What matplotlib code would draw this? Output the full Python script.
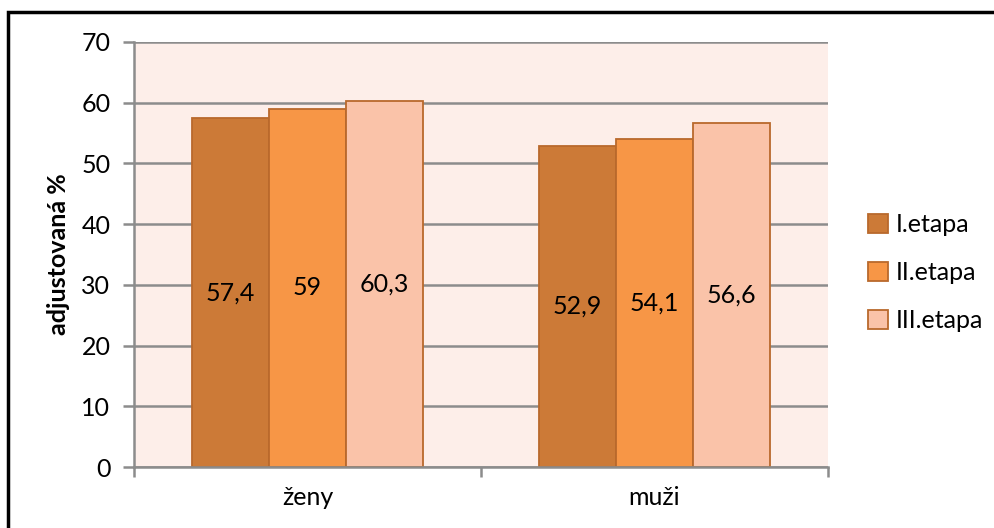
import matplotlib
matplotlib.use("Agg")
import matplotlib.pyplot as plt
from matplotlib.patches import Rectangle
import numpy as np

plt.rcParams['font.family'] = ['Lato', 'DejaVu Sans']

categories = ["ženy", "muži"]
series_names = ["I.etapa", "II.etapa", "III.etapa"]
values_I = [57.4, 52.9]
values_II = [59.0, 54.1]
values_III = [60.3, 56.6]
value_labels_I = ["57,4", "52,9"]
value_labels_II = ["59", "54,1"]
value_labels_III = ["60,3", "56,6"]
y_ticks = [0, 10, 20, 30, 40, 50, 60, 70]

colors = ["#CC7A37", "#F79646", "#FAC3A9"]
edge = "#B9692C"
fs = 18

fig = plt.figure(figsize=(9.95, 5.28), dpi=100)
ax = fig.add_axes([0.1347, 0.1155, 0.6973, 0.805])
ax.set_facecolor("#FDEEE9")

x = np.arange(len(categories))
bw = 1 / 4.5
series = [values_I, values_II, values_III]
labels = [value_labels_I, value_labels_II, value_labels_III]
for i, (vals, labs) in enumerate(zip(series, labels)):
    pos = x + (i - 1) * bw
    bars = ax.bar(pos, vals, width=bw, color=colors[i], edgecolor=edge,
                  linewidth=1.3, label=series_names[i], zorder=3)
    for b, lab in zip(bars, labs):
        ax.text(b.get_x() + b.get_width() / 2, b.get_height() / 2, lab,
                ha="center", va="center", fontsize=fs, color="black", zorder=4)

ax.set_xlim(-0.5, 1.5)
ax.set_ylim(0, 70)
ax.set_yticks(y_ticks)
ax.set_yticklabels([str(t) for t in y_ticks], fontsize=fs)
ax.grid(axis="y", color="#8C8C8C", linewidth=1.8, zorder=1)
ax.set_xticks(x)
ax.set_xticklabels(categories, fontsize=fs)
ax.set_xticks([-0.5, 0.5, 1.5], minor=True)
ax.tick_params(axis="x", which="major", length=0, pad=14)
ax.tick_params(axis="x", which="minor", length=7, width=1.8, color="#8C8C8C")
ax.tick_params(axis="y", length=8, width=1.8, color="#8C8C8C", pad=9)
for s in ["top", "right"]:
    ax.spines[s].set_visible(False)
for s in ["left", "bottom"]:
    ax.spines[s].set_color("#8C8C8C")
    ax.spines[s].set_linewidth(1.8)
    ax.spines[s].set_zorder(5)

ax.set_ylabel("adjustovaná %", fontsize=fs, fontweight="bold", labelpad=8)

leg = fig.legend(loc="center left", bbox_to_anchor=(0.85, 0.483), frameon=False,
                 fontsize=fs, handlelength=0.8, handleheight=0.8,
                 handletextpad=0.3, labelspacing=1.0)

# chart frame
fig.patches.append(Rectangle((8 / 995, -0.1), 1.2, 1 - 12 / 528 + 0.1,
                             transform=fig.transFigure, fill=False,
                             edgecolor="black", linewidth=2.5))

fig.savefig("out.png", dpi=100)
